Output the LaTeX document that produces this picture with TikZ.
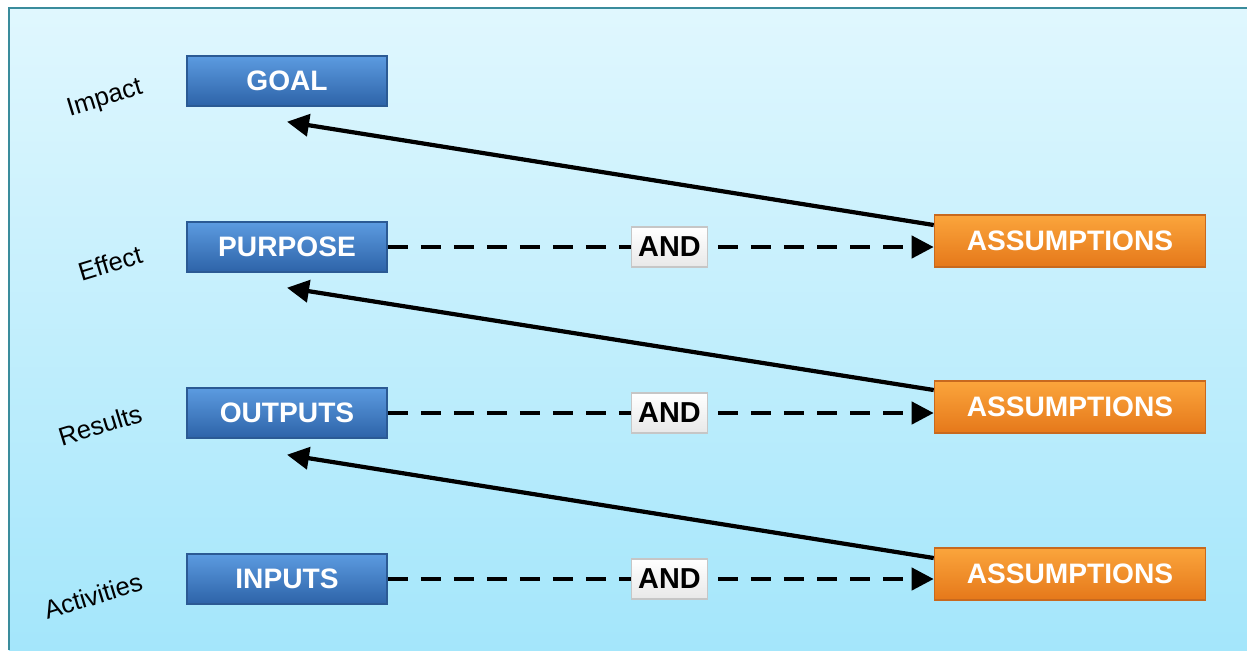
\documentclass[tikz,border=0pt]{standalone}
\usepackage{fontspec}
\setmainfont{Liberation Sans}
\usetikzlibrary{arrows.meta}
\definecolor{bgtop}{HTML}{E0F7FE}
\definecolor{bgbot}{HTML}{A4E6FB}
\definecolor{frame}{HTML}{3A8C9C}
\definecolor{bluetop}{HTML}{5C9BE0}
\definecolor{bluebot}{HTML}{2D63A8}
\definecolor{blueline}{HTML}{2B5A94}
\definecolor{orangetop}{HTML}{FBA53C}
\definecolor{orangebot}{HTML}{E5781A}
\definecolor{orangeline}{HTML}{C8691E}
\begin{document}
\begin{tikzpicture}[x=0.01cm,y=-0.01cm,
  level/.style={draw=blueline,top color=bluetop,bottom color=bluebot,text=white,
    minimum width=2cm,minimum height=0.5cm,inner sep=0pt,
    font=\fontsize{8}{10}\selectfont\bfseries},
  assume/.style={draw=orangeline,top color=orangetop,bottom color=orangebot,text=white,
    minimum width=2.71cm,minimum height=0.52cm,inner sep=0pt,
    font=\fontsize{8}{10}\selectfont\bfseries},
  andbox/.style={solid,line width=0.4pt,draw=gray!45,top color=white,bottom color=gray!18,
    minimum width=0.76cm,minimum height=0.4cm,inner sep=0pt,
    font=\fontsize{8.2}{10}\selectfont\bfseries},
  tag/.style={rotate=17,font=\fontsize{7.3}{9}\selectfont},
  link/.style={line width=1.2pt,-{Triangle[length=0.22cm,width=0.22cm]}},
  andlink/.style={link,dash pattern=on 0.2cm off 0.13cm}]
\useasboundingbox (0,0) rectangle (1247,650);
\fill[top color=bgtop,bottom color=bgbot] (9,8) rectangle (1247,650);
\draw[frame,line width=0.6pt] (9,650) -- (9,8) -- (1247,8);
% levels of the frame
\foreach \name/\txt/\y in {goal/GOAL/81,purpose/PURPOSE/247,outputs/OUTPUTS/413,inputs/INPUTS/579}
{
\node[level] (\name) at (287,\y) {\txt};
}
\foreach \name/\txt/\x/\y in {impact/Impact/105/99,effect/Effect/110/263,results/Results/100/425,activities/Activities/93/596}
{
\node[tag] (\name) at (\x,\y) {\txt};
}
\foreach \name/\y in {asm1/241,asm2/407,asm3/574}
{
\node[assume] (\name) at (1070,\y) {ASSUMPTIONS};
}
% dashed links with AND
\draw[andlink] (purpose.east) -- (purpose -| asm1.west) node[andbox,pos=0.516] (and1) {AND};
\draw[andlink] (outputs.east) -- (outputs -| asm2.west) node[andbox,pos=0.516] (and2) {AND};
\draw[andlink] (inputs.east) -- (inputs -| asm3.west) node[andbox,pos=0.516] (and3) {AND};
% back links
\draw[link] ([yshift=0.16cm]asm1.west) -- ([yshift=-0.15cm]goal.south);
\draw[link] ([yshift=0.17cm]asm2.west) -- ([yshift=-0.15cm]purpose.south);
\draw[link] ([yshift=0.16cm]asm3.west) -- ([yshift=-0.16cm]outputs.south);
\end{tikzpicture}
\end{document}
